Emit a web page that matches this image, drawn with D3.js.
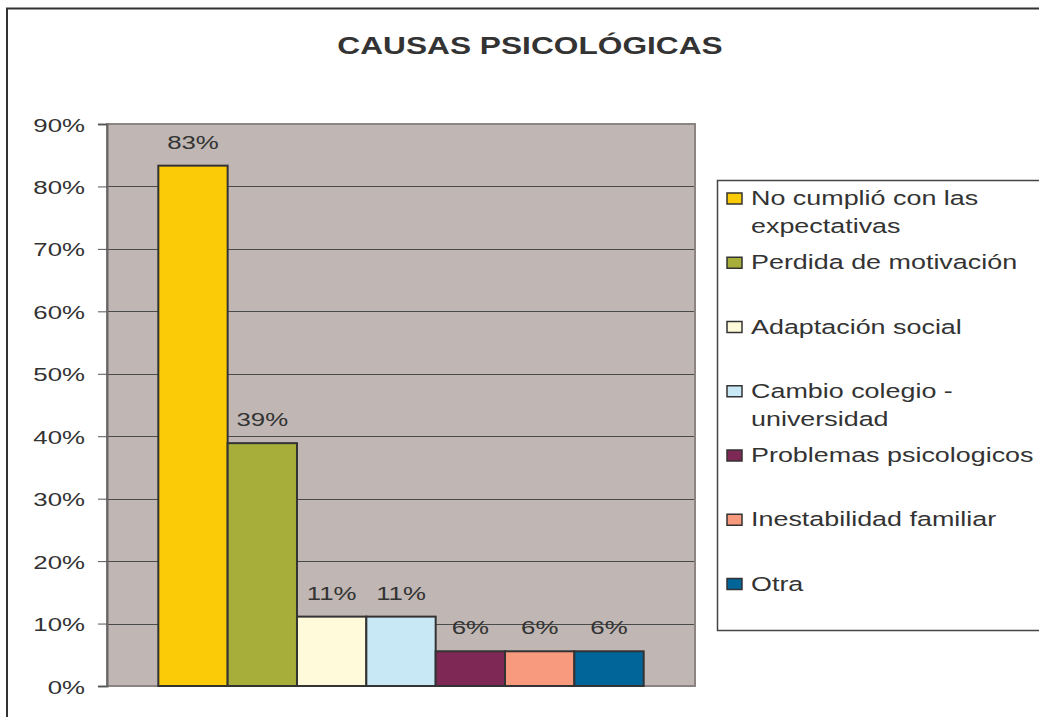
<!DOCTYPE html>
<html>
<head>
<meta charset="utf-8">
<script src="https://cdn.jsdelivr.net/npm/d3@7"></script>
<style>
  body { margin: 0; background: #fff; }
  svg text { font-family: "Liberation Sans", Arial, Helvetica, sans-serif; fill: #333; }
</style>
</head>
<body>
<div id="chart"></div>
<script>
// data
var categories = ["No cumplió con las expectativas", "Perdida de motivación", "Adaptación social",
                  "Cambio colegio - universidad", "Problemas psicologicos", "Inestabilidad familiar", "Otra"];
var legendLines = [["No cumplió con las", "expectativas"], ["Perdida de motivación"], ["Adaptación social"],
                   ["Cambio colegio -", "universidad"], ["Problemas psicologicos"], ["Inestabilidad familiar"], ["Otra"]];
var values = [0.8333, 0.3889, 0.1111, 0.1111, 0.0556, 0.0556, 0.0556];
var colors = ["#fccb07", "#a8ae3a", "#fffad9", "#c8e8f6", "#7e2856", "#f79a7e", "#02659a"];
var yTicks = [0, 0.1, 0.2, 0.3, 0.4, 0.5, 0.6, 0.7, 0.8, 0.9];
var title = "CAUSAS PSICOLÓGICAS";

var W = 1039, H = 717;
var SX = 1.36; // the picture is stretched sideways
var plot = { left: 107, right: 695, top: 124, bottom: 686 };

var svg = d3.select("#chart").append("svg").attr("width", W).attr("height", H);

// outer frame
svg.append("rect").attr("x", 7).attr("y", 8.5).attr("width", W + 20).attr("height", H + 20)
   .attr("fill", "none").attr("stroke", "#333").attr("stroke-width", 2);

function stretchedText(g, x, y, str, size, anchor, weight, sx)
{
  return g.append("text")
          .attr("transform", "translate(" + x + "," + y + ") scale(" + (sx || SX) + ",1)")
          .attr("text-anchor", anchor)
          .style("font-size", size + "px")
          .style("font-weight", weight || "normal")
          .text(str);
}

stretchedText(svg, 530, 54, title, 24, "middle", "bold", 1.32);

var x = d3.scaleBand().domain(categories).range([plot.left, plot.right]).paddingInner(0).paddingOuter(0.74);
var y = d3.scaleLinear().domain([0, 0.9]).range([plot.bottom, plot.top]);
var fmt = d3.format(".0%");

// plot background
svg.append("rect").attr("x", plot.left).attr("y", plot.top)
   .attr("width", plot.right - plot.left).attr("height", plot.bottom - plot.top)
   .attr("fill", "#c0b7b4");

// gridlines
svg.append("g").selectAll("line").data(yTicks.slice(1)).enter().append("line")
   .attr("x1", plot.left).attr("x2", plot.right)
   .attr("y1", function (d) { return Math.round(y(d)) + 0.5; })
   .attr("y2", function (d) { return Math.round(y(d)) + 0.5; })
   .attr("stroke", "#4a4a4a").attr("stroke-width", 1);

// plot border
svg.append("rect").attr("x", plot.left).attr("y", plot.top)
   .attr("width", plot.right - plot.left).attr("height", plot.bottom - plot.top)
   .attr("fill", "none").attr("stroke", "#8c8482").attr("stroke-width", 2);

// y axis
var yAxis = d3.axisLeft(y).tickValues(yTicks).tickFormat(fmt).tickSize(9).tickPadding(0);
var ag = svg.append("g").attr("transform", "translate(" + plot.left + ",0)").call(yAxis);
ag.select(".domain").attr("stroke", "#666").attr("stroke-width", 2);
ag.selectAll(".tick line").attr("stroke", "#555");
ag.selectAll(".tick text").remove();
ag.selectAll(".tick").each(function (d) {
  stretchedText(d3.select(this), -22, 7, fmt(d), 19, "end");
});

// bars
svg.append("g").selectAll("rect").data(values).enter().append("rect")
   .attr("x", function (d, i) { return x(categories[i]); })
   .attr("y", function (d) { return y(d); })
   .attr("width", x.bandwidth())
   .attr("height", function (d) { return y(0) - y(d); })
   .attr("fill", function (d, i) { return colors[i]; })
   .attr("stroke", "#333").attr("stroke-width", 2);

// value labels
var lg = svg.append("g");
values.forEach(function (d, i) {
  stretchedText(lg, x(categories[i]) + x.bandwidth() / 2, y(d) - 17, fmt(d), 19, "middle");
});

// legend
var leg = { left: 717, top: 180, bottom: 630, first: 205, step: 64.25 };
svg.append("rect").attr("x", leg.left + 0.5).attr("y", leg.top + 0.5)
   .attr("width", W).attr("height", leg.bottom - leg.top)
   .attr("fill", "#fff").attr("stroke", "#444").attr("stroke-width", 1.5);

var items = svg.append("g").selectAll("g").data(categories).enter().append("g")
   .attr("transform", function (d, i) { return "translate(0," + (leg.first + i * leg.step) + ")"; });
items.append("rect").attr("x", 727).attr("y", -12).attr("width", 15).attr("height", 11)
   .attr("fill", function (d, i) { return colors[i]; })
   .attr("stroke", "#333").attr("stroke-width", 1.5);
items.each(function (d, i) {
  var g = d3.select(this);
  legendLines[i].forEach(function (line, j) {
    stretchedText(g, 751, j * 28, line, 19.5, "start", "normal", 1.38);
  });
});
</script>
</body>
</html>
